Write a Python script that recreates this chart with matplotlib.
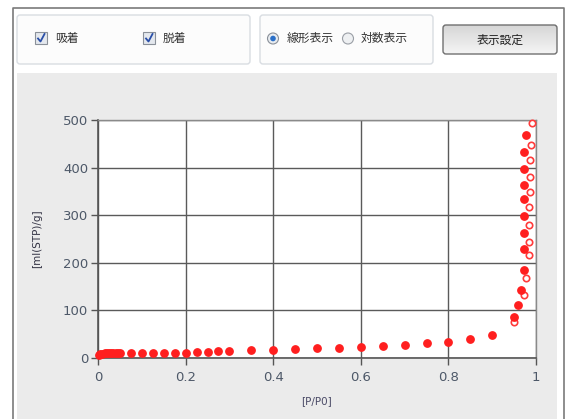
import numpy as np
import matplotlib
matplotlib.use('Agg')
import matplotlib.pyplot as plt
from matplotlib.patches import Rectangle, FancyBboxPatch, Circle

plt.rcParams['font.family'] = ['DejaVu Sans']

# adsorption branch (filled)
ads_p = [0.002, 0.005, 0.01, 0.015, 0.02, 0.025, 0.03, 0.035, 0.04, 0.045, 0.05,
         0.075, 0.1, 0.125, 0.15, 0.175, 0.2, 0.225, 0.25, 0.275, 0.3,
         0.35, 0.4, 0.45, 0.5, 0.55, 0.6, 0.65, 0.7, 0.75, 0.8, 0.85, 0.9,
         0.949, 0.96, 0.966, 0.973, 0.973, 0.973, 0.973, 0.973, 0.973, 0.973, 0.973, 0.978]
ads_v = [6, 8, 9, 9.5, 10, 10, 10.5, 10.5, 11, 11, 11,
         11, 11, 11, 11, 11, 11.5, 12, 13, 14, 15,
         16, 17.5, 19, 20, 22, 24, 26, 28, 31, 34, 39, 49,
         86, 111, 142, 185, 230, 263, 298, 333, 364, 398, 433, 468]

# desorption branch (open)
des_p = [0.991, 0.989, 0.987, 0.987, 0.987, 0.985, 0.984, 0.983, 0.983, 0.977, 0.973, 0.949]
des_v = [493, 447, 415, 380, 349, 317, 280, 243, 216, 169, 132, 75]

xticks = [0, 0.2, 0.4, 0.6, 0.8, 1]
xticklabels = ['0', '0.2', '0.4', '0.6', '0.8', '1']
yticks = [0, 100, 200, 300, 400, 500]

W, H = 568, 419
fig = plt.figure(figsize=(W / 100, H / 100), dpi=100)
fig.patch.set_facecolor('white')

# form controls drawn in pixel coordinates
ui = fig.add_axes([0, 0, 1, 1])
ui.set_xlim(0, W)
ui.set_ylim(H, 0)
ui.axis('off')

ui.plot([13, 13, 564, 564], [H, 8, 8, H], color='#7a7a7a', lw=1.2)
for x0, x1 in [(17, 250), (260, 433)]:
    ui.add_patch(FancyBboxPatch((x0, 15), x1 - x0, 49, boxstyle='round,pad=0,rounding_size=3',
                                fc='#fcfcfc', ec='#d9dde2', lw=1))
ui.add_patch(Rectangle((17, 73), 540, H - 73, fc='#ebebeb', ec='none'))

# button with a light vertical gradient
grad = np.linspace(0, 1, 64).reshape(-1, 1)
ui.imshow(grad, extent=(443, 557, 54, 25), cmap=matplotlib.colors.LinearSegmentedColormap.from_list(
    'btn', ['#d6d6d6', '#f5f5f5']), aspect='auto', zorder=1)
ui.add_patch(FancyBboxPatch((443, 25), 114, 29, boxstyle='round,pad=0,rounding_size=3',
                            fc='none', ec='#707070', lw=1, zorder=2))
ui.text(500, 40, '表示設定', family=['Noto Sans CJK JP', 'DejaVu Sans'], fontsize=8.5,
        color='#222222', ha='center', va='center', zorder=3)

cjk = ['Noto Sans CJK JP', 'DejaVu Sans']
for cx, label in [(35, '吸着'), (143, '脱着')]:
    ui.add_patch(Rectangle((cx, 32), 12, 12, fc='#e4e8ee', ec='#8a9099', lw=0.8))
    ui.plot([cx + 3, cx + 5.5, cx + 9.5], [38.5, 41.5, 34], color='#2a4fa8', lw=1.3)
    ui.text(cx + 20, 38.5, label, family=cjk, fontsize=8.5, color='#333333', va='center')

ui.add_patch(Circle((273, 38.5), 5.5, fc='#e8ecf0', ec='#8a9099', lw=0.8))
ui.add_patch(Circle((273, 38.5), 2.8, fc='#2a6fc8', ec='none'))
ui.text(287, 38.5, '線形表示', family=cjk, fontsize=8.5, color='#333333', va='center')
ui.add_patch(Circle((348, 38.5), 5.5, fc='#eef0f2', ec='#9a9fa6', lw=0.8))
ui.text(361, 38.5, '対数表示', family=cjk, fontsize=8.5, color='#333333', va='center')

# isotherm plot
ax = fig.add_axes([98 / W, 1 - 358 / H, (536 - 98) / W, (358 - 120) / H])
ax.set_facecolor('white')
ax.set_xlim(0, 1)
ax.set_ylim(0, 500)
ax.set_xticks(xticks)
ax.set_xticklabels(xticklabels)
ax.set_yticks(yticks)
ax.grid(True, color='#5a5a5a', lw=1)
ax.set_axisbelow(True)
for side in ['left', 'bottom']:
    ax.spines[side].set_color('#555555')
    ax.spines[side].set_linewidth(1.2)
for side in ['right', 'top']:
    ax.spines[side].set_color('#8a8a8a')
    ax.spines[side].set_linewidth(1)
ax.tick_params(direction='out', length=5, width=1, color='#555555',
               labelsize=9.5, labelcolor='#4d5868', pad=2)
ax.tick_params(axis='x', pad=4)
for lbl in ax.get_xticklabels() + ax.get_yticklabels():
    lbl.set_fontweight('medium')

ax.plot(des_p, des_v, 'o', ms=4.6, mfc='white', mec='#ff3b3b', mew=1.2, ls='none',
        clip_on=False, zorder=3)
ax.plot(ads_p, ads_v, 'o', ms=5.3, color='#ff1f1f', ls='none', clip_on=False, zorder=4)

ax.set_xlabel('[P/P0]', fontsize=7.5, color='#4a4a66', labelpad=9)
ax.set_ylabel('[ml(STP)/g]', fontsize=7.5, color='#333344', labelpad=15)

fig.savefig('out.png', dpi=100)
